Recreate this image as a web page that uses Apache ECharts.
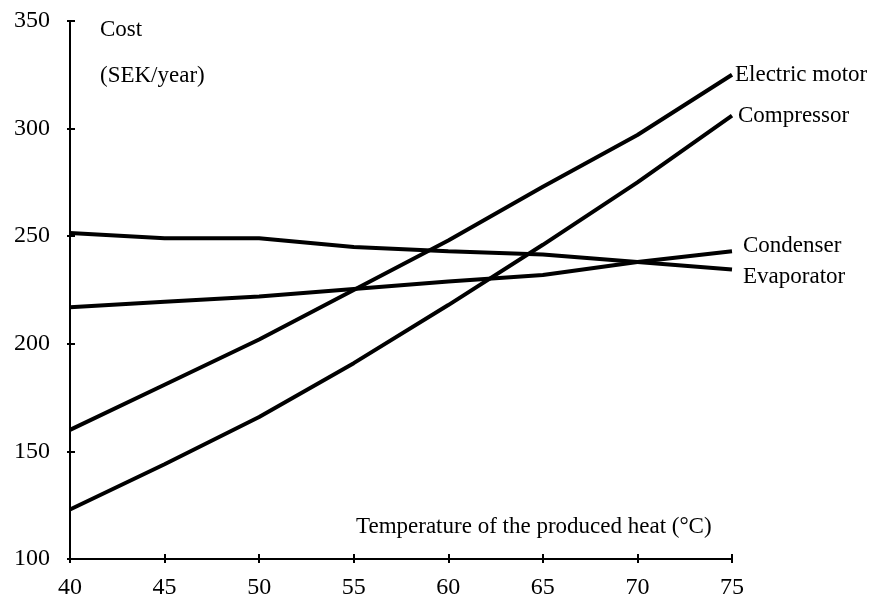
<!DOCTYPE html>
<html>
<head>
<meta charset="utf-8">
<script src="https://cdn.jsdelivr.net/npm/echarts@6/dist/echarts.min.js"></script>
<style>html,body{margin:0;padding:0;background:#fff}#c{width:878px;height:604px}</style>
</head>
<body>
<div id="c"></div>
<script>
const temps = [40, 45, 50, 55, 60, 65, 70, 75];
const electricMotor = [160, 181, 202, 225, 248, 273, 297, 325];
const compressor = [123, 144, 166, 191, 218, 246, 275, 306];
const condenser = [217, 219.5, 222, 225.5, 229, 232, 238, 243];
const evaporator = [251.5, 249, 249, 245, 243, 241.5, 238, 234.5];
const seriesNames = ['Electric motor', 'Compressor', 'Condenser', 'Evaporator'];
const yTicks = [100, 150, 200, 250, 300, 350];
const xTicks = [40, 45, 50, 55, 60, 65, 70, 75];

const FONT = 'Liberation Serif';
const chart = echarts.init(document.getElementById('c'));
const labelOffsets = [[-5, 0], [-2, 0], [3, -5], [3, 7]];
const dataSets = [electricMotor, compressor, condenser, evaporator];

const series = dataSets.map((vals, i) => ({
  name: seriesNames[i],
  type: 'line',
  xAxisIndex: 0, yAxisIndex: 0,
  data: temps.map((t, j) => [t, vals[j]]),
  symbol: 'none',
  lineStyle: { color: '#000', width: 4 },
  animation: false,
  endLabel: {
    show: true,
    formatter: seriesNames[i],
    fontFamily: FONT, fontSize: 23, color: '#000',
    offset: labelOffsets[i]
  }
}));

const baseX = {
  type: 'value', min: 40, max: 75, interval: 5,
  axisLine: { show: true, onZero: false, lineStyle: { color: '#000', width: 2 } },
  splitLine: { show: false }
};
const baseY = {
  type: 'value', min: 100, max: 350, interval: 50,
  axisLine: { show: true, onZero: false, lineStyle: { color: '#000', width: 2 } },
  splitLine: { show: false }
};

chart.setOption({
  backgroundColor: '#fff',
  animation: false,
  grid: { left: 70, right: 146, top: 21, bottom: 45, containLabel: false },
  xAxis: [
    Object.assign({}, baseX, {
      axisTick: { show: true, inside: false, length: 4, lineStyle: { color: '#000', width: 2 } },
      axisLabel: { fontFamily: FONT, fontSize: 24, color: '#000', margin: 17,
        formatter: v => xTicks.includes(v) ? String(v) : '' }
    }),
    Object.assign({}, baseX, {
      position: 'bottom',
      axisLine: { show: false },
      axisTick: { show: true, inside: true, length: 5, lineStyle: { color: '#000', width: 2 } },
      axisLabel: { show: false }
    })
  ],
  yAxis: [
    Object.assign({}, baseY, {
      axisTick: { show: true, inside: false, length: 3, lineStyle: { color: '#000', width: 2 } },
      axisLabel: { fontFamily: FONT, fontSize: 24, color: '#000', margin: 20,
        formatter: v => yTicks.includes(v) ? String(v) : '' }
    }),
    Object.assign({}, baseY, {
      position: 'left',
      axisLine: { show: false },
      axisTick: { show: true, inside: true, length: 5, lineStyle: { color: '#000', width: 2 } },
      axisLabel: { show: false }
    })
  ],
  graphic: [
    { type: 'text', left: 100, top: 18, style: { text: 'Cost', font: '23px "Liberation Serif"', fill: '#000' } },
    { type: 'text', left: 100, top: 64, style: { text: '(SEK/year)', font: '23px "Liberation Serif"', fill: '#000' } },
    { type: 'text', left: 356, top: 515, style: { text: 'Temperature of the produced heat (°C)', font: '23px "Liberation Serif"', fill: '#000' } }
  ],
  series: series
});
</script>
</body>
</html>
